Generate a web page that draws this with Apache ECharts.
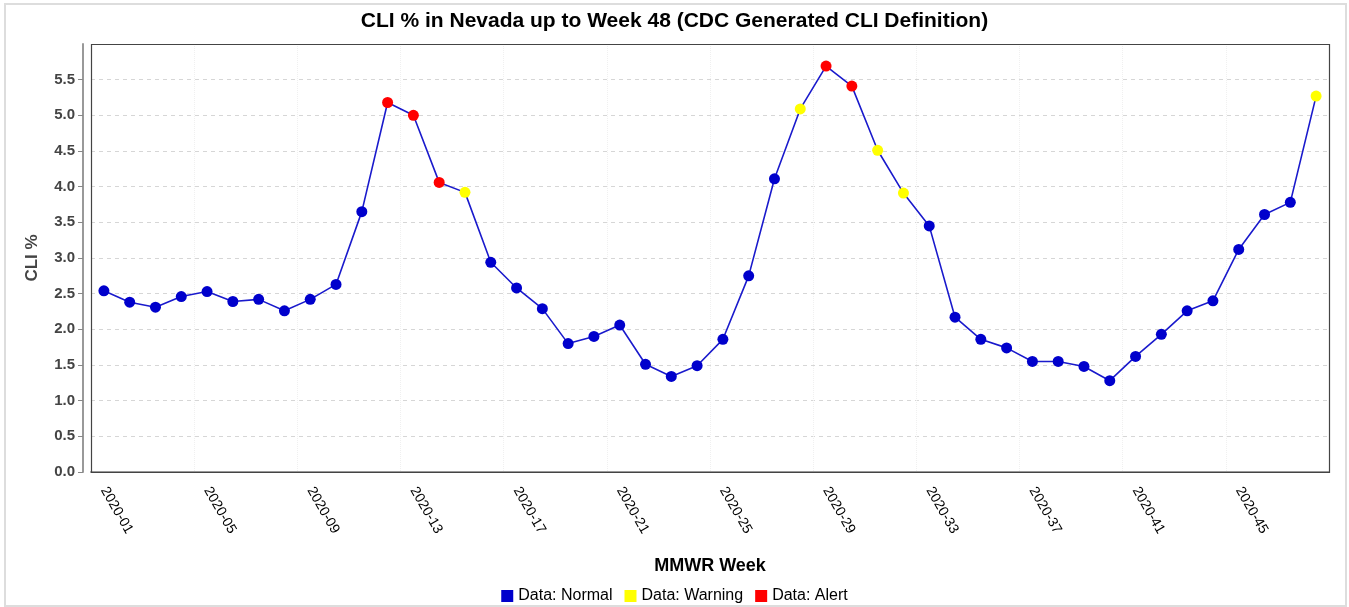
<!DOCTYPE html>
<html>
<head>
<meta charset="utf-8">
<script src="https://cdn.jsdelivr.net/npm/echarts@6/dist/echarts.min.js"></script>
<style>
html,body{margin:0;padding:0;background:#fff;}
#chart{width:1349px;height:607px;}
</style>
</head>
<body>
<div id="chart"></div>
<script>
const weeks = [];
for (let i = 1; i <= 48; i++) weeks.push('2020-' + (i < 10 ? '0' + i : '' + i));
const cliValues = [2.54, 2.38, 2.31, 2.46, 2.53, 2.39, 2.42, 2.26, 2.42, 2.63,
  3.65, 5.18, 5.00, 4.06, 3.92, 2.94, 2.58, 2.29, 1.80, 1.90,
  2.06, 1.51, 1.34, 1.49, 1.86, 2.75, 4.11, 5.09, 5.69, 5.41,
  4.51, 3.91, 3.45, 2.17, 1.86, 1.74, 1.55, 1.55, 1.48, 1.28,
  1.62, 1.93, 2.26, 2.40, 3.12, 3.61, 3.78, 5.27];
// N = normal, W = warning, A = alert
const status = ['N','N','N','N','N','N','N','N','N','N',
  'N','A','A','A','W','N','N','N','N','N',
  'N','N','N','N','N','N','N','W','A','A',
  'W','W','N','N','N','N','N','N','N','N',
  'N','N','N','N','N','N','N','W'];
const statusNames = {N: 'Data: Normal', W: 'Data: Warning', A: 'Data: Alert'};
const statusColors = {N: '#0000cc', W: '#ffff00', A: '#ff0000'};
const FONT = 'Liberation Sans, Arial, sans-serif';

const chart = echarts.init(document.getElementById('chart'));
const scatterSeries = ['N','W','A'].map(k => ({
  name: statusNames[k],
  type: 'scatter',
  symbol: 'circle',
  symbolSize: 11,
  itemStyle: {color: statusColors[k], opacity: 1},
  data: cliValues.map((v, i) => status[i] === k ? v : null),
  z: 3
}));

chart.setOption({
  animation: false,
  title: {
    text: 'CLI % in Nevada up to Week 48 (CDC Generated CLI Definition)',
    left: 'center', top: 6,
    textStyle: {fontFamily: FONT, fontSize: 21, fontWeight: 'bold', color: '#000'}
  },
  graphic: [{
    type: 'rect', silent: true,
    shape: {x: 5, y: 4, width: 1341, height: 602},
    style: {fill: 'none', stroke: '#dddddd', lineWidth: 2}
  }, {
    type: 'rect', silent: true, z: 10,
    shape: {x: 91.5, y: 44.5, width: 1238, height: 428},
    style: {fill: 'none', stroke: '#444', lineWidth: 1.2}
  }],
  legend: {
    data: ['Data: Normal', 'Data: Warning', 'Data: Alert'],
    left: 'center', top: 583,
    icon: 'rect', itemWidth: 12, itemHeight: 12, itemGap: 12,
    itemStyle: {opacity: 1},
    textStyle: {fontFamily: FONT, fontSize: 16, color: '#000'}
  },
  grid: {
    left: 91, right: 20, top: 44, bottom: 135,
    show: false
  },
  xAxis: {
    type: 'category',
    data: weeks,
    boundaryGap: true,
    offset: 7,
    name: 'MMWR Week', nameLocation: 'middle', nameGap: 78,
    nameTextStyle: {fontFamily: FONT, fontSize: 18, fontWeight: 'bold', color: '#000'},
    axisLine: {lineStyle: {color: '#999', width: 2}},
    axisTick: {alignWithLabel: true, interval: 3, length: 5, lineStyle: {color: '#888'}},
    axisLabel: {interval: 3, rotate: -60, margin: 9, fontFamily: FONT, fontSize: 14, color: '#000'},
    splitLine: {show: true, interval: 3, lineStyle: {color: '#f0f0f0', type: 'dotted'}}
  },
  yAxis: {
    type: 'value',
    min: 0, max: 6, interval: 0.5,
    offset: 8,
    name: 'CLI %', nameLocation: 'middle', nameGap: 42,
    nameTextStyle: {fontFamily: FONT, fontSize: 17, fontWeight: 'bold', color: '#444'},
    axisLine: {show: true, lineStyle: {color: '#999', width: 2}},
    axisTick: {show: true, length: 5, lineStyle: {color: '#888'}},
    axisLabel: {
      showMaxLabel: false,
      formatter: v => v.toFixed(1),
      fontFamily: FONT, fontSize: 15, fontWeight: 'bold', color: '#444', margin: 8
    },
    splitLine: {show: true, lineStyle: {color: '#d6d6d6', type: [4, 4]}}
  },
  series: [{
    name: 'CLI',
    type: 'line',
    data: cliValues,
    showSymbol: false,
    lineStyle: {color: '#1a1acc', width: 1.6},
    z: 2
  }].concat(scatterSeries)
});
</script>
</body>
</html>
